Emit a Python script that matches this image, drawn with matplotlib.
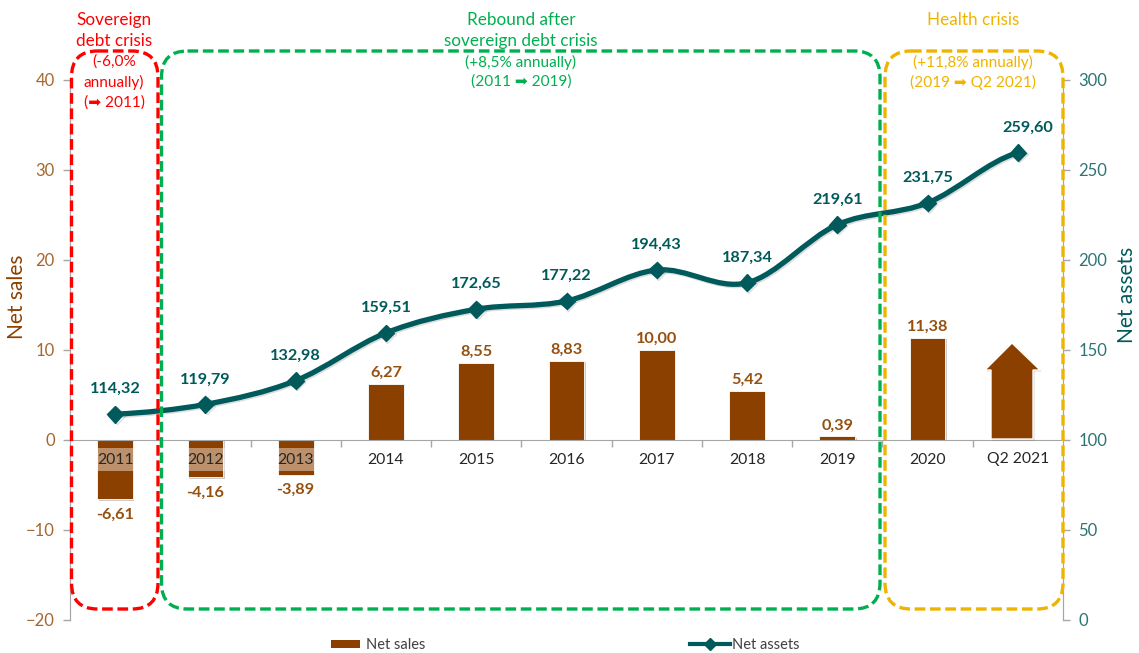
import numpy as np
import matplotlib
matplotlib.use("Agg")
import matplotlib.pyplot as plt
import matplotlib.patheffects as pe
from matplotlib.lines import Line2D
from matplotlib.patches import FancyBboxPatch, PathPatch, Patch, Polygon
from matplotlib.path import Path

plt.rcParams['font.family'] = ['Lato', 'DejaVu Sans']

# values
years = ['2011', '2012', '2013', '2014', '2015', '2016', '2017', '2018', '2019', '2020', 'Q2 2021']
net_sales = [-6.61, -4.16, -3.89, 6.27, 8.55, 8.83, 10.00, 5.42, 0.39, 11.38]
net_assets = [114.32, 119.79, 132.98, 159.51, 172.65, 177.22, 194.43, 187.34, 219.61, 231.75, 259.60]
left_ticks = [-20, -10, 0, 10, 20, 30, 40]
right_ticks = [0, 50, 100, 150, 200, 250, 300]

BROWN = '#8B4000'
TEAL = '#005A5B'
RED = '#FF0000'
GREEN = '#00B050'
YELLOW = '#EFB400'
GREY = '#A6A6A6'

W, H = 1139, 653
fig = plt.figure(figsize=(W / 100, H / 100), dpi=100)
ax = fig.add_axes([70 / W, (H - 620) / H, 993 / W, 540 / H])
ax2 = ax.twinx()

x = np.arange(len(years))

# bars (no value for the last period, it gets an arrow further down)
bars = ax.bar(x[:len(net_sales)], net_sales, width=0.395, color=BROWN, edgecolor='white', linewidth=0.6)
for b in bars:
    b.set_path_effects([pe.withSimplePatchShadow(offset=(1, -1), shadow_rgbFace='#555555', alpha=0.3)])
for xi, v in zip(x, net_sales):
    ax.annotate(('%.2f' % v).replace('.', ','), (xi, v), xytext=(0, 11 if v > 0 else -15), textcoords='offset pixels',
                ha='center', va='center', color='#96500F', fontsize=11.7, fontweight='bold')

ax.set_xlim(-0.5, len(years) - 0.5)
ax.set_ylim(-20, 40)
ax2.set_ylim(0, 300)
ax.set_yticks(left_ticks)
ax2.set_yticks(right_ticks)
ax.tick_params(axis='y', colors=GREY, labelcolor='#A5672F', labelsize=12, length=5, width=1, pad=6)
ax2.tick_params(axis='y', colors=GREY, labelcolor='#2F7475', labelsize=12, length=5, width=1, pad=6)

for a in (ax, ax2):
    a.spines['top'].set_visible(False)
    a.spines['left'].set_color(GREY)
    a.spines['right'].set_color(GREY)
ax.spines['bottom'].set_position(('data', 0))
ax.spines['bottom'].set_color(GREY)
ax2.spines['bottom'].set_visible(False)
ax.set_zorder(1)
ax2.set_zorder(2)
ax.set_axisbelow(False)

# set_position on a spine resets the ticks, so the x ticks come after it
ax.set_xticks(x)
ax.set_xticklabels(years)
ax.set_xticks(x[:-1] + 0.5, minor=True)
ax.tick_params(axis='x', which='major', length=0, pad=9, labelsize=11.3, labelcolor='#262626')
ax.tick_params(axis='x', which='minor', length=5, width=1, color=GREY)
for lab in ax.get_xticklabels():
    lab.set_bbox(dict(facecolor='white', alpha=0.42, edgecolor='none', pad=3.5))

# smoothed line like the spreadsheet one, bezier control points from the neighbours
ya = np.array(net_assets)
verts = [(x[0], ya[0])]
codes = [Path.MOVETO]
for i in range(len(x) - 1):
    p0 = ya[max(i - 1, 0)]
    p1 = ya[i]
    p2 = ya[i + 1]
    p3 = ya[min(i + 2, len(ya) - 1)]
    verts += [(x[i] + 1 / 3, p1 + (p2 - p0) / 6), (x[i + 1] - 1 / 3, p2 - (p3 - p1) / 6), (x[i + 1], p2)]
    codes += [Path.CURVE4, Path.CURVE4, Path.CURVE4]
shadow = [pe.SimpleLineShadow(offset=(1, -1), shadow_color='#777777', alpha=0.25), pe.Normal()]
ax2.add_patch(PathPatch(Path(verts, codes), fill=False, edgecolor=TEAL, linewidth=3.8, capstyle='round', path_effects=shadow))
ax2.plot(x, net_assets, linestyle='none', marker='D', markersize=8.5, color=TEAL, path_effects=shadow)
for i, v in enumerate(net_assets):
    dx = 10 if i == len(net_assets) - 1 else 0
    ax2.annotate(('%.2f' % v).replace('.', ','), (x[i], v), xytext=(dx, 25), textcoords='offset pixels',
                 ha='center', va='center', color=TEAL, fontsize=11.7, fontweight='bold')

fig.text(17 / W, 1 - 297 / H, 'Net sales', rotation=90, ha='center', va='center', color=BROWN, fontsize=15)
fig.text(1127 / W, 1 - 295 / H, 'Net assets', rotation=90, ha='center', va='center', color=TEAL, fontsize=15)

# overlay in pixel coordinates for the period boxes and their captions
ov = fig.add_axes([0, 0, 1, 1], zorder=3)
ov.set_xlim(0, W)
ov.set_ylim(H, 0)
ov.axis('off')

boxes = [(71.5, 158, RED), (161.5, 880, GREEN), (885, 1063, YELLOW)]
for x0, x1, col in boxes:
    pad = 26
    ov.add_patch(FancyBboxPatch((x0 + pad, 51 + pad), x1 - x0 - 2 * pad, 558 - 2 * pad,
                                boxstyle='round,pad=%d,rounding_size=%d' % (pad, pad),
                                fill=False, edgecolor=col, linewidth=2.4, linestyle=(0, (3.2, 1.4))))

captions = [
    (114, RED, [('Sovereign', 20), ('debt crisis', 41), ('(-6,0%', 62), ('annually)', 82), ('(\u27a1 2011)', 103)]),
    (521, GREEN, [('Rebound after', 20), ('sovereign debt crisis', 41), ('(+8,5% annually)', 62), ('(2011 \u27a1 2019)', 82)]),
    (973, YELLOW, [('Health crisis', 20), ('(+11,8% annually)', 62), ('(2019 \u27a1 Q2 2021)', 82)]),
]
for cx, col, lines in captions:
    for txt, cy in lines:
        size = 12.3 if cy < 50 else 11.1
        ov.text(cx, cy, txt, color=col, fontsize=size, ha='center', va='center')

# arrow standing in for the Q2 2021 bar
arrow = Polygon([(991, 439), (991, 370), (985, 370), (1012, 343), (1040, 370), (1033, 370), (1033, 439)],
                closed=True, facecolor=BROWN, edgecolor='white', linewidth=1.0)
arrow.set_path_effects([pe.withSimplePatchShadow(offset=(1, -1), shadow_rgbFace='#555555', alpha=0.3)])
ov.add_patch(arrow)

# legend, two of them because the handles have different widths
leg1 = fig.legend(handles=[Patch(facecolor=BROWN, edgecolor='none', label='Net sales')], loc='center left',
                  bbox_to_anchor=(331 / W, 1 - 645 / H), frameon=False, fontsize=10.5, handlelength=2.0, handleheight=0.5,
                  handletextpad=0.4, borderpad=0, borderaxespad=0, labelcolor='#404040')
fig.legend(handles=[Line2D([], [], color=TEAL, linewidth=3, marker='D', markersize=6, label='Net assets')], loc='center left',
           bbox_to_anchor=(690 / W, 1 - 645 / H), frameon=False, fontsize=10.5, handlelength=2.75,
           handletextpad=0.15, borderpad=0, borderaxespad=0, labelcolor='#404040')

fig.savefig('out.png', dpi=100)
